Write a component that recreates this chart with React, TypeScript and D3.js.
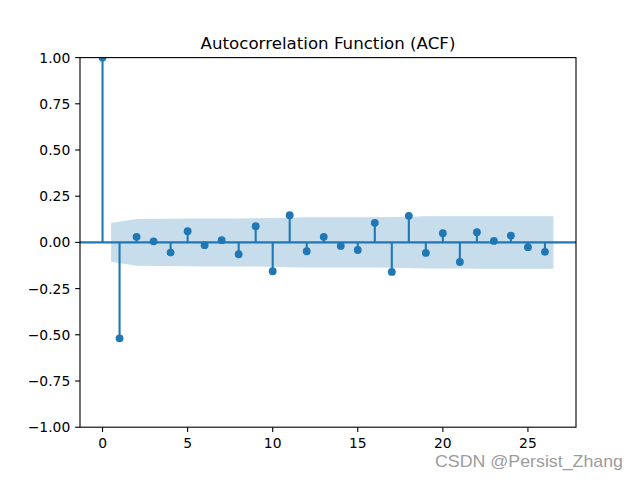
import React from "react";
import * as d3 from "d3";

const LAGS = d3.range(0, 27);
const ACF = [
  1.0, -0.519, 0.03, 0.006, -0.055, 0.061, -0.015, 0.012, -0.064, 0.088,
  -0.156, 0.147, -0.048, 0.03, -0.019, -0.041, 0.106, -0.16, 0.144, -0.057,
  0.05, -0.106, 0.055, 0.008, 0.037, -0.026, -0.051,
];
// confidence half-width for lags 1..26
const CONF = [
  0.105, 0.127, 0.128, 0.128, 0.129, 0.13, 0.13, 0.13, 0.131, 0.132, 0.134,
  0.136, 0.136, 0.136, 0.136, 0.136, 0.137, 0.139, 0.141, 0.141, 0.141, 0.142,
  0.142, 0.142, 0.142, 0.142,
];
const X_TICKS = [0, 5, 10, 15, 20, 25];
const Y_TICKS = [1, 0.75, 0.5, 0.25, 0, -0.25, -0.5, -0.75, -1];
const TITLE = "Autocorrelation Function (ACF)";
const WATERMARK = "CSDN @Persist_Zhang";

const W = 640, H = 480;
const L = 80, R = 576, T = 57.6, B = 427.2;
const C0 = "#1f77b4";
const FONT = "DejaVu Sans";

export default function App() {
  const x = d3.scaleLinear().domain([-1.325, 27.825]).range([L, R]);
  const y = d3.scaleLinear().domain([-1, 1]).range([B, T]);

  const bandX = CONF.map((_, i) => {
    const lag = i + 1;
    if (i === 0) return lag - 0.5;
    if (i === CONF.length - 1) return lag + 0.5;
    return lag;
  });
  const area = d3
    .area<number>()
    .x((_, i) => x(bandX[i]))
    .y0((d) => y(-d))
    .y1((d) => y(d));

  const fmt = (v: number) => (v < 0 ? "\u2212" : "") + Math.abs(v).toFixed(2);

  return (
    <svg
      width={W}
      height={H}
      style={{ position: "absolute", left: 0, top: 0, background: "#fff" }}
      fontFamily={FONT}
    >
      <rect x={0} y={0} width={W} height={H} fill="#fff" />
      <defs>
        <clipPath id="clip">
          <rect x={L} y={T} width={R - L} height={B - T} />
        </clipPath>
      </defs>
      <g clipPath="url(#clip)">
        <path d={area(CONF) || ""} fill={C0} fillOpacity={0.25} />
        <line x1={L} x2={R} y1={y(0)} y2={y(0)} stroke={C0} strokeWidth={2.08} />
        {LAGS.map((l) => (
          <line
            key={"v" + l}
            x1={x(l)}
            x2={x(l)}
            y1={y(0)}
            y2={y(ACF[l])}
            stroke={C0}
            strokeWidth={2.08}
          />
        ))}
        {LAGS.map((l) => (
          <circle key={"c" + l} cx={x(l)} cy={y(ACF[l])} r={3.9} fill={C0} />
        ))}
      </g>
      <rect
        x={L}
        y={T}
        width={R - L}
        height={B - T}
        fill="none"
        stroke="#000"
        strokeWidth={1.11}
      />
      {X_TICKS.map((t) => (
        <g key={"xt" + t}>
          <line x1={x(t)} x2={x(t)} y1={B} y2={B + 4.86} stroke="#000" strokeWidth={1.11} />
          <text x={x(t)} y={B + 20.3} textAnchor="middle" fontSize={13.89} fill="#000">
            {t}
          </text>
        </g>
      ))}
      {Y_TICKS.map((t) => (
        <g key={"yt" + t}>
          <line x1={L} x2={L - 4.86} y1={y(t)} y2={y(t)} stroke="#000" strokeWidth={1.11} />
          <text x={L - 9.72} y={y(t) + 5} textAnchor="end" fontSize={13.89} fill="#000">
            {fmt(t)}
          </text>
        </g>
      ))}
      <text x={(L + R) / 2} y={T - 8.33} textAnchor="middle" fontSize={16.67} fill="#000">
        {TITLE}
      </text>
      <text
        x={435}
        y={467.3}
        fontFamily="Liberation Sans"
        fontSize={17}
        textLength={188}
        lengthAdjust="spacingAndGlyphs"
        fill="#9c9c9c"
      >
        {WATERMARK}
      </text>
    </svg>
  );
}
